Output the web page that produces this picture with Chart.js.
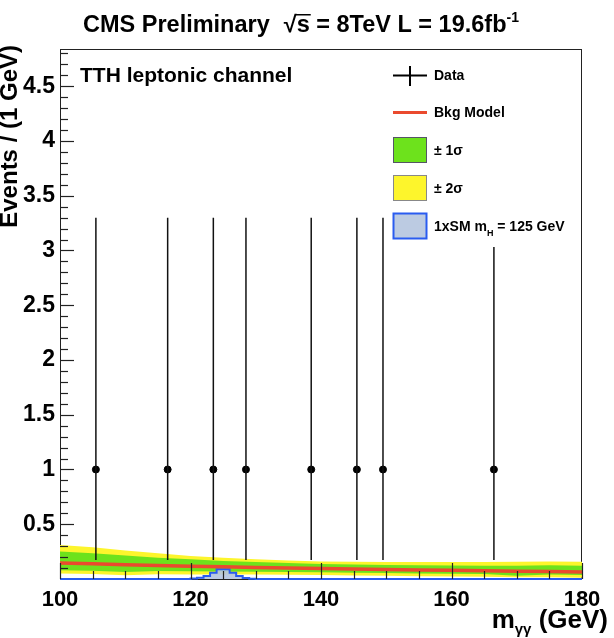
<!DOCTYPE html>
<html>
<head>
<meta charset="utf-8">
<script src="https://cdn.jsdelivr.net/npm/chart.js@4.4.0/dist/chart.umd.min.js"></script>
<style>
  body { margin: 0; background: #fff; }
  #wrap { width: 614px; height: 638px; }
</style>
</head>
<body>
<div id="wrap"><canvas id="chart" width="614" height="638"></canvas></div>
<script>
// data points (one event per 1 GeV bin), Poisson errors
const massX = [105.5, 116.5, 123.5, 128.5, 138.5, 145.5, 149.5, 166.5];
const events = [1, 1, 1, 1, 1, 1, 1, 1];
const errLow = [0.827, 0.827, 0.827, 0.827, 0.827, 0.827, 0.827, 0.827];
const errHigh = [2.3, 2.3, 2.3, 2.3, 2.3, 2.3, 2.3, 2.3];

// background model
const bkgX = [100, 110, 120, 130, 140, 150, 160, 170, 180];
const bkgY = [0.147, 0.131, 0.117, 0.105, 0.095, 0.087, 0.079, 0.071, 0.064];

// error bands
const bandX = [100, 105, 110, 115, 120, 125, 130, 135, 140, 145, 150, 155, 160, 165, 170, 175, 180];
const yellowUp = [0.31, 0.29, 0.26, 0.235, 0.21, 0.195, 0.18, 0.17, 0.16, 0.158, 0.155, 0.155, 0.155, 0.155, 0.157, 0.16, 0.158];
const greenUp = [0.25, 0.235, 0.215, 0.195, 0.18, 0.165, 0.155, 0.145, 0.137, 0.132, 0.128, 0.125, 0.123, 0.122, 0.121, 0.125, 0.12];
const greenLow = [0.08, 0.075, 0.065, 0.073, 0.07, 0.068, 0.066, 0.064, 0.062, 0.058, 0.055, 0.05, 0.047, 0.045, 0.03, 0.04, 0.037];
const yellowLow = [0.05, 0.045, 0.035, 0.043, 0.042, 0.04, 0.04, 0.038, 0.036, 0.033, 0.03, 0.025, 0.022, 0.02, 0.015, 0.015, 0.012];

// signal 1xSM mH=125 histogram (bin low edges)
const sigEdges = [100, 120, 121, 122, 123, 124, 125, 126, 127, 128, 129, 130, 180];
const sigVals = [0, 0.004, 0.012, 0.027, 0.058, 0.089, 0.089, 0.058, 0.027, 0.01, 0.003, 0, 0];

const xTicks = [100, 120, 140, 160, 180];
const yTicks = [0.5, 1, 1.5, 2, 2.5, 3, 3.5, 4, 4.5];

const FONT = '"Liberation Sans", Arial, Helvetica, sans-serif';
const pts = (xs, ys) => xs.map((x, i) => ({ x: x, y: ys[i] }));

const rootStyle = {
  id: 'rootStyle',
  beforeDatasetsDraw(chart) {
    const ctx = chart.ctx, a = chart.chartArea;
    ctx.save();
    ctx.strokeStyle = '#222';
    ctx.lineWidth = 1;
    ctx.strokeRect(a.left + 0.5, a.top + 0.5, a.right - a.left - 1, a.bottom - a.top);
    ctx.restore();
  },
  afterDatasetsDraw(chart) {
    const ctx = chart.ctx, a = chart.chartArea;
    const xs = chart.scales.x, ys = chart.scales.y;
    ctx.save();
    // error bars
    ctx.strokeStyle = '#111';
    ctx.lineWidth = 1.5;
    massX.forEach((m, i) => {
      const px = xs.getPixelForValue(m);
      ctx.beginPath();
      ctx.moveTo(px, ys.getPixelForValue(events[i] - errLow[i]));
      ctx.lineTo(px, ys.getPixelForValue(events[i] + errHigh[i]));
      ctx.stroke();
    });
    // ticks inside the frame
    ctx.strokeStyle = '#222';
    ctx.lineWidth = 1.2;
    for (let v = 100; v <= 180; v += 5) {
      const px = Math.round(xs.getPixelForValue(v)) + 0.5;
      const len = xTicks.includes(v) ? 16 : 8;
      ctx.beginPath();
      ctx.moveTo(px, a.bottom);
      ctx.lineTo(px, a.bottom - len);
      ctx.stroke();
    }
    for (let k = 1; k <= 48; k++) {
      const py = Math.round(ys.getPixelForValue(k / 10)) + 0.5;
      const len = k % 5 === 0 ? 14 : 8;
      ctx.beginPath();
      ctx.moveTo(a.left, py);
      ctx.lineTo(a.left + len, py);
      ctx.stroke();
    }
    ctx.restore();
  },
  afterDraw(chart) {
    const ctx = chart.ctx;
    ctx.save();
    ctx.fillStyle = '#000';
    ctx.textBaseline = 'alphabetic';
    ctx.textAlign = 'left';

    // title
    let x = 83;
    ctx.font = 'bold 23.5px ' + FONT;
    ctx.fillText('CMS Preliminary', x, 32);
    x += ctx.measureText('CMS Preliminary').width + 14;
    ctx.fillText('\u221A', x, 32);
    x += ctx.measureText('\u221A').width;
    const sw = ctx.measureText('s').width;
    ctx.fillText('s', x, 32);
    ctx.fillRect(x - 1, 14, sw + 2, 1.5);
    x += sw;
    ctx.fillText(' = 8TeV L = 19.6fb', x, 32);
    x += ctx.measureText(' = 8TeV L = 19.6fb').width;
    ctx.font = 'bold 14px ' + FONT;
    ctx.fillText('-1', x, 22);

    // channel label
    ctx.font = 'bold 21px ' + FONT;
    ctx.fillText('TTH leptonic channel', 80, 82);

    // y title
    ctx.save();
    ctx.translate(17, 45);
    ctx.rotate(-Math.PI / 2);
    ctx.textAlign = 'right';
    ctx.font = 'bold 24px ' + FONT;
    ctx.fillText('Events / (1 GeV)', 0, 0);
    ctx.restore();

    // x title
    ctx.font = 'bold 26px ' + FONT;
    const rest = ' (GeV)';
    const restW = ctx.measureText(rest).width;
    const mW = ctx.measureText('m').width;
    ctx.font = 'bold 15px ' + FONT;
    const gW = ctx.measureText('\u03B3\u03B3').width;
    let tx = 608 - restW - gW - mW;
    ctx.font = 'bold 26px ' + FONT;
    ctx.fillText('m', tx, 628);
    ctx.font = 'bold 15px ' + FONT;
    ctx.fillText('\u03B3\u03B3', tx + mW, 634);
    ctx.font = 'bold 26px ' + FONT;
    ctx.fillText(rest, tx + mW + gW, 628);

    // legend
    ctx.fillStyle = '#fff';
    ctx.fillRect(386, 57, 190, 190);
    const lx = 393, lw = 34, tX = 434;
    ctx.strokeStyle = '#000';
    ctx.lineWidth = 2;
    ctx.beginPath();
    ctx.moveTo(lx, 75.5); ctx.lineTo(lx + lw, 75.5);
    ctx.moveTo(lx + lw / 2, 66); ctx.lineTo(lx + lw / 2, 86);
    ctx.stroke();
    ctx.strokeStyle = '#ea4a2e';
    ctx.lineWidth = 3;
    ctx.beginPath();
    ctx.moveTo(lx, 112.5); ctx.lineTo(lx + lw, 112.5);
    ctx.stroke();
    const box = (y, fill, stroke, lwid) => {
      ctx.fillStyle = fill;
      ctx.fillRect(lx, y, lw, 26);
      ctx.strokeStyle = stroke;
      ctx.lineWidth = lwid;
      ctx.strokeRect(lx + 0.5, y + 0.5, lw - 1, 25);
    };
    box(137, '#6de21c', '#556', 1);
    box(175, '#fdf52c', '#888', 1);
    box(213, '#bccbe2', '#2a5cf0', 2);

    ctx.fillStyle = '#000';
    ctx.font = 'bold 14px ' + FONT;
    ctx.fillText('Data', tX, 80);
    ctx.fillText('Bkg Model', tX, 117);
    ctx.fillText('\u00B1 1\u03C3', tX, 155);
    ctx.fillText('\u00B1 2\u03C3', tX, 193);
    let sx = tX;
    ctx.fillText('1xSM m', sx, 231);
    sx += ctx.measureText('1xSM m').width;
    ctx.font = 'bold 9px ' + FONT;
    ctx.fillText('H', sx, 236);
    sx += ctx.measureText('H').width;
    ctx.font = 'bold 14px ' + FONT;
    ctx.fillText(' = 125 GeV', sx, 231);
    ctx.restore();
  }
};

new Chart(document.getElementById('chart'), {
  type: 'line',
  data: {
    datasets: [
      {
        label: 'Data', type: 'scatter', data: pts(massX, events),
        pointRadius: 3.5, pointBackgroundColor: '#000', pointBorderColor: '#000',
        showLine: false, order: 0
      },
      {
        label: 'Bkg Model', data: pts(bkgX, bkgY), borderColor: '#ea4a2e',
        borderWidth: 3.5, pointRadius: 0, tension: 0.3, fill: false, order: 1
      },
      {
        label: '1xSM', data: pts(sigEdges, sigVals), stepped: 'before',
        borderColor: '#2a5cf0', borderWidth: 2, backgroundColor: 'rgba(180,196,224,0.9)',
        pointRadius: 0, fill: 'origin', order: 2, clip: 3
      },
      {
        label: 'green up', data: pts(bandX, greenUp), borderWidth: 0, borderColor: 'rgba(0,0,0,0)',
        backgroundColor: '#6de21c', pointRadius: 0, fill: '+1', order: 3
      },
      {
        label: 'green low', data: pts(bandX, greenLow), borderWidth: 0, borderColor: 'rgba(0,0,0,0)',
        pointRadius: 0, fill: false, order: 4
      },
      {
        label: 'yellow up', data: pts(bandX, yellowUp), borderWidth: 0, borderColor: 'rgba(0,0,0,0)',
        backgroundColor: '#fdf52c', pointRadius: 0, fill: '+1', order: 5
      },
      {
        label: 'yellow low', data: pts(bandX, yellowLow), borderWidth: 0, borderColor: 'rgba(0,0,0,0)',
        pointRadius: 0, fill: false, order: 6
      }
    ]
  },
  options: {
    responsive: false,
    animation: false,
    layout: { padding: { top: 49, right: 32, bottom: 0, left: 0 } },
    plugins: { legend: { display: false }, tooltip: { enabled: false } },
    scales: {
      x: {
        type: 'linear', min: 100, max: 180,
        afterFit: s => { s.height = 59; },
        afterBuildTicks: s => { s.ticks = xTicks.map(v => ({ value: v })); },
        grid: { display: false, drawTicks: false },
        border: { display: false },
        ticks: {
          maxRotation: 0, autoSkip: false, padding: 8, color: '#000',
          font: { family: FONT, size: 22, weight: 'bold' }
        }
      },
      y: {
        type: 'linear', min: 0, max: 4.84,
        afterFit: s => { s.width = 60; },
        afterBuildTicks: s => { s.ticks = yTicks.map(v => ({ value: v })); },
        grid: { display: false, drawTicks: false },
        border: { display: false },
        ticks: {
          padding: 5, color: '#000',
          callback: v => String(v),
          font: { family: FONT, size: 23, weight: 'bold' }
        }
      }
    }
  },
  plugins: [rootStyle]
});
</script>
</body>
</html>
